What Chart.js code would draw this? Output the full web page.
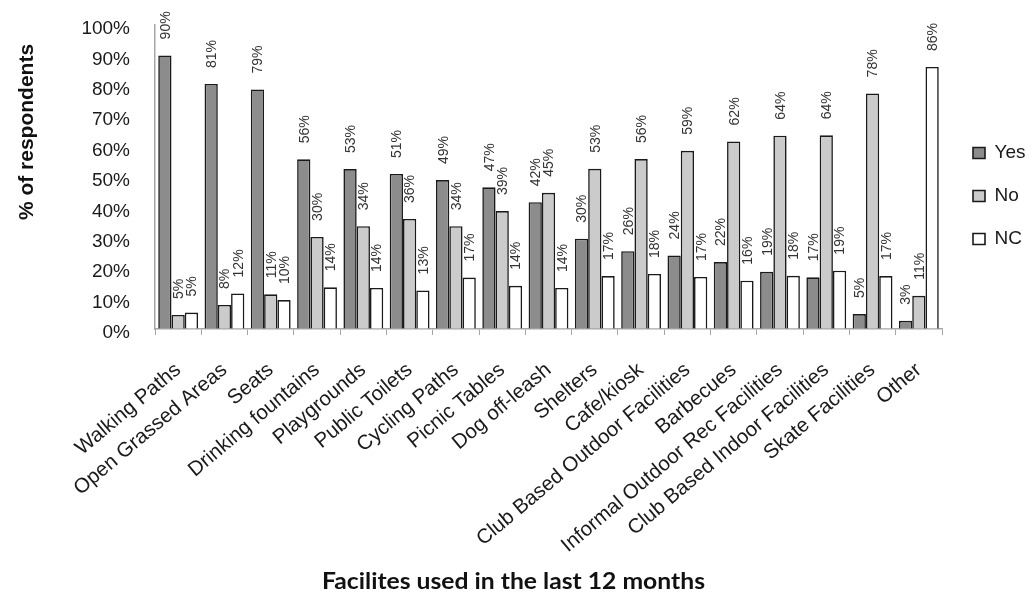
<!DOCTYPE html>
<html>
<head>
<meta charset="utf-8">
<script src="https://cdn.jsdelivr.net/npm/chart.js@4.4.1/dist/chart.umd.min.js"></script>
<style>
html,body{margin:0;padding:0;background:#fff;}
canvas{display:block;}
</style>
</head>
<body>
<canvas id="c" width="1032" height="595"></canvas>
<script>
const categories = [
  'Walking Paths', 'Open Grassed Areas', 'Seats', 'Drinking fountains', 'Playgrounds',
  'Public Toilets', 'Cycling Paths', 'Picnic Tables', 'Dog off-leash', 'Shelters',
  'Cafe/kiosk', 'Club Based Outdoor Facilities', 'Barbecues', 'Informal Outdoor Rec Facilities',
  'Club Based Indoor Facilities', 'Skate Facilities', 'Other'
];
const seriesNames = ['Yes', 'No', 'NC'];
const yesValues = [90, 80.6, 78.8, 55.8, 52.6, 51, 49, 46.6, 41.7, 29.7, 25.6, 24.2, 22, 18.8, 17, 4.9, 2.7];
const noValues  = [4.6, 7.9, 11.4, 30.3, 33.8, 36.2, 33.8, 38.8, 44.8, 52.7, 55.9, 58.6, 61.7, 63.6, 63.7, 77.5, 10.9];
const ncValues  = [5.4, 11.7, 9.5, 13.7, 13.5, 12.7, 16.9, 14.2, 13.5, 17.4, 18.1, 17.1, 15.9, 17.5, 19.2, 17.4, 86.2];
const yTickValues = [0, 10, 20, 30, 40, 50, 60, 70, 80, 90, 100];
const yAxisTitle = '% of respondents';
const xAxisTitle = 'Facilites used in the last 12 months';

const FONT = '"Liberation Sans", Arial, Helvetica, sans-serif';
const seriesColors = ['#8c8c8c', '#cbcbcb', '#ffffff'];
const seriesValues = [yesValues, noValues, ncValues];

const valueLabels = {
  id: 'valueLabels',
  afterDatasetsDraw(chart) {
    const ctx = chart.ctx;
    ctx.save();
    ctx.font = '14px ' + FONT;
    ctx.fillStyle = '#333333';
    ctx.textAlign = 'left';
    ctx.textBaseline = 'middle';
    chart.data.datasets.forEach((ds, di) => {
      const meta = chart.getDatasetMeta(di);
      meta.data.forEach((el, i) => {
        const txt = Math.round(ds.data[i]) + '%';
        ctx.save();
        ctx.translate(el.x + 1, el.y - 16);
        ctx.rotate(-Math.PI / 2);
        ctx.fillText(txt, 0, 0);
        ctx.restore();
      });
    });
    ctx.restore();
  }
};

const axisTitles = {
  id: 'axisTitles',
  afterDraw(chart) {
    const ctx = chart.ctx;
    ctx.save();
    ctx.fillStyle = '#111111';
    ctx.font = 'bold 21px ' + FONT;
    ctx.textAlign = 'center';
    ctx.textBaseline = 'middle';
    ctx.translate(27, 132);
    ctx.rotate(-Math.PI / 2);
    ctx.fillText(yAxisTitle, 0, 0);
    ctx.restore();

    ctx.save();
    ctx.fillStyle = '#111111';
    ctx.font = 'bold 22px Lato, "Open Sans", sans-serif';
    ctx.textAlign = 'center';
    ctx.textBaseline = 'alphabetic';
    const w = ctx.measureText(xAxisTitle).width;
    ctx.translate(513.5, 589);
    ctx.scale(383 / w, 1);
    ctx.fillText(xAxisTitle, 0, 0);
    ctx.restore();
  }
};

new Chart(document.getElementById('c'), {
  type: 'bar',
  data: {
    labels: categories,
    datasets: seriesNames.map((name, k) => ({
      label: name,
      data: seriesValues[k],
      backgroundColor: seriesColors[k],
      borderColor: '#1a1a1a',
      borderWidth: 1.6,
      categoryPercentage: 0.86,
      barPercentage: 1.0
    }))
  },
  options: {
    responsive: false,
    animation: false,
    devicePixelRatio: 1,
    layout: { padding: { top: 25, right: -3.5, bottom: 0, left: 0 } },
    plugins: {
      tooltip: { enabled: false },
      legend: {
        position: 'right',
        align: 'start',
        title: { display: true, text: ' ', font: { size: 10 }, padding: { top: 82.5, bottom: 0 } },
        labels: {
          boxWidth: 12,
          boxHeight: 11,
          padding: 24,
          color: '#1a1a1a',
          font: { size: 19, family: FONT }
        }
      }
    },
    scales: {
      x: {
        grid: { display: true, drawOnChartArea: false, offset: true, tickLength: 6, color: '#a6a6a6', lineWidth: 1 },
        border: { display: true, color: '#a6a6a6', width: 1.5 },
        ticks: {
          autoSkip: false, maxRotation: 40, minRotation: 40,
          font: { size: 20.5, family: FONT }, color: '#1a1a1a', padding: 23
        },
        afterFit: s => { s.height = 266; }
      },
      y: {
        min: 0, max: 100,
        afterBuildTicks: s => { s.ticks = yTickValues.map(v => ({ value: v })); },
        grid: { display: true, drawOnChartArea: false, drawTicks: true, tickLength: 25, tickColor: 'rgba(0,0,0,0)' },
        border: { display: true, color: '#a6a6a6', width: 1.5 },
        ticks: {
          callback: v => v + '%',
          font: { size: 19, family: FONT }, color: '#1a1a1a', padding: 0, labelOffset: 4
        },
        afterFit: s => { s.width = 155; }
      },
      gap: {
        type: 'linear',
        position: 'right',
        display: true,
        grid: { display: false },
        border: { display: false },
        ticks: { display: false },
        afterFit: s => { s.width = 7; }
      }
    }
  },
  plugins: [valueLabels, axisTitles]
});
</script>
</body>
</html>
